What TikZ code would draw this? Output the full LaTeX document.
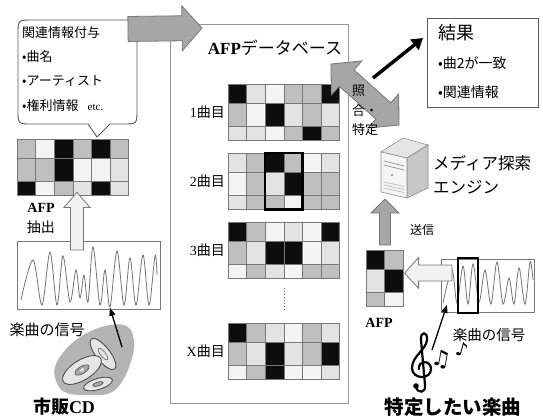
\documentclass[tikz,border=0pt]{standalone}
\usepackage{fontspec}
\setmainfont{Liberation Serif}
\newfontfamily\jp{Noto Sans CJK JP}
\newfontfamily\symfont{DejaVu Sans}
\usetikzlibrary{arrows.meta,positioning,fit,calc}
\definecolor{shadeK}{RGB}{13,13,13}
\definecolor{shadeG}{RGB}{191,191,191}
\definecolor{shadeL}{RGB}{227,227,227}
\definecolor{shadeW}{RGB}{244,244,244}
\definecolor{framegray}{RGB}{150,150,150}
\definecolor{arrowgray}{RGB}{166,166,166}
\definecolor{edgegray}{RGB}{120,120,120}
\definecolor{palegray}{RGB}{242,242,242}
\definecolor{blobgray}{RGB}{180,180,180}

% fingerprint grid: name, north west corner, columns, three rows of shades
\newcommand\afpgrid[6]{%
  \node[gridbox, minimum width={#3*18.6pt}, anchor=north west] (#1) at #2 {};
  \foreach \c [count=\i from 0] in {#4}
    \draw[cell, fill=shade\c] ($(#1.north west)+(\i*18.6,0)$) rectangle ++(18.6,19);
  \foreach \c [count=\i from 0] in {#5}
    \draw[cell, fill=shade\c] ($(#1.north west)+(\i*18.6,19)$) rectangle ++(18.6,23);
  \foreach \c [count=\i from 0] in {#6}
    \draw[cell, fill=shade\c] ($(#1.north west)+(\i*18.6,42)$) rectangle ++(18.6,14);
}
% block arrow: style, from, to, shaft half width, head half width, head length
\newcommand\blockarrow[6][]{%
  \coordinate (ba-base) at ($(#3)!#6pt!(#2)$);
  \draw[#1] ($(#2)!#4pt!90:(#3)$) -- ($(ba-base)!#4pt!-90:(#2)$)
    -- ($(ba-base)!#5pt!-90:(#2)$) -- (#3)
    -- ($(ba-base)!#5pt!90:(#2)$) -- ($(ba-base)!#4pt!90:(#2)$)
    -- ($(#2)!#4pt!-90:(#3)$) -- cycle;
}
% same with a head at both ends
\newcommand\twinarrow[6][]{%
  \coordinate (ta-a) at ($(#2)!#6pt!(#3)$);
  \coordinate (ta-b) at ($(#3)!#6pt!(#2)$);
  \draw[#1] (#2) -- ($(ta-a)!#5pt!90:(#3)$) -- ($(ta-a)!#4pt!90:(#3)$)
    -- ($(ta-b)!#4pt!-90:(#2)$) -- ($(ta-b)!#5pt!-90:(#2)$) -- (#3)
    -- ($(ta-b)!#5pt!90:(#2)$) -- ($(ta-b)!#4pt!90:(#2)$)
    -- ($(ta-a)!#4pt!-90:(#3)$) -- ($(ta-a)!#5pt!-90:(#3)$) -- cycle;
}

\begin{document}
\begin{tikzpicture}[x=1pt, y=-1pt,
    jp/.style={font=\jp\fontsize{#1}{#1}\selectfont, inner sep=0pt},
    cell/.style={draw=edgegray, line width=0.6pt},
    gridbox/.style={inner sep=0pt, minimum height=56pt},
    frame/.style={draw=framegray, line width=1.2pt, inner sep=0pt},
    wavebox/.style={draw=edgegray, line width=0.8pt, fill=white, inner sep=0pt},
    wave/.style={draw=black!55, line width=0.8pt},
    whitearrow/.style={draw=edgegray, line width=0.8pt, fill=palegray},
    grayarrow/.style={draw=edgegray, line width=0.8pt, fill=arrowgray},
    pointer/.style={-{Triangle[length=8pt,width=6pt]}, line width=1.3pt},
    disc/.style={draw=black!75, line width=0.8pt, fill=black!10},
  ]
  \useasboundingbox (0,0) rectangle (543,418);

  % tag bubble
  \draw[draw=black!65, line width=0.9pt, fill=white] (97,137) -- (88,124) -- (32,124)
    .. controls (18,124) .. (18,110) -- (18,34) .. controls (18,20) .. (32,20)
    -- (123,20) .. controls (137,20) .. (137,34) -- (137,110)
    .. controls (137,124) .. (123,124) -- (110,124) -- cycle;
  \node[jp=13, anchor=west] (tagtitle) at (22,33) {関連情報付与};
  \node[jp=13, anchor=west] (tagname) at (22,57) {•曲名};
  \node[jp=13, anchor=west] (tagartist) at (22,81) {•アーティスト};
  \node[jp=13, anchor=west] (tagrights) at (22,106)
    {•権利情報\hspace{0.7em}{\rmfamily\fontsize{11}{11}\selectfont etc.}};

  % database
  \node[frame, minimum width=178pt, minimum height=379pt, anchor=north west] (db) at (170,24) {};
  \node[font=\bfseries\fontsize{17}{17}\selectfont, inner sep=0pt] (dbtitle) at (275,48)
    {AFP{\jp\mdseries データベース}};
  \afpgrid{song1}{(228,84)}{6}{K,L,W,G,G,K}{G,W,K,L,G,L}{L,L,W,G,K,G}
  \afpgrid{song2}{(228,153)}{6}{L,G,K,G,W,L}{W,G,L,K,G,G}{L,G,G,W,G,G}
  \afpgrid{song3}{(228,222)}{6}{K,G,W,L,W,K}{G,L,K,K,W,L}{W,G,L,W,G,G}
  \afpgrid{songx}{(228,323)}{6}{K,G,L,W,G,L}{G,L,K,L,G,K}{W,G,K,W,W,L}
  \node[jp=14, left=3pt of song1] (song1-label) {{\rmfamily 1}曲目};
  \node[jp=14, left=3pt of song2] (song2-label) {{\rmfamily 2}曲目};
  \node[jp=14, left=3pt of song3] (song3-label) {{\rmfamily 3}曲目};
  \node[jp=14, left=3pt of songx] (songx-label) {{\rmfamily X}曲目};
  \draw[line width=2.4pt] ($(song2.north west)+(2*18.6,0)$) rectangle ($(song2.south west)+(4*18.6,0)$);
  \draw[dotted, line width=1pt, black!60] ($(song3.south)+(0,10)$) -- ($(songx.north)+(0,-11)$);

  \coordinate (tag-out) at (128,29);
  \coordinate (db-in) at ($(db.north west)+(32,4)$);
  \blockarrow[grayarrow]{tag-out}{db-in}{12.5}{22.5}{20}

  % commercial CD side
  \afpgrid{tagafp}{(17,139)}{6}{G,W,K,G,K,G}{G,G,K,W,W,L}{K,W,G,L,K,L}
  \node[font=\bfseries\fontsize{14}{14}\selectfont, inner sep=0pt] (tagafp-label) at (41,208) {AFP};
  \node[jp=14] (extract-label) at (41,227) {抽出};
  \node[wavebox, minimum width=143pt, minimum height=68pt, anchor=north west] (cdwave) at (17,241) {};
  \draw[wave] plot[smooth, tension=0.55] coordinates {(21,300) (33,260) (42,305) (50,252) (57,305)
    (63,256) (70,302) (76,270) (80,298) (84,275) (88,302) (93,247) (100,305) (105,270) (110,307)
    (117,251) (124,305) (130,258) (136,305) (143,255) (149,305) (155,256) (157,275)};
  \coordinate (cdwave-out) at ($(cdwave.north west)+(60,9)$);
  \coordinate (tagafp-in) at ($(tagafp.south west)+(60,-3)$);
  \blockarrow[whitearrow]{cdwave-out}{tagafp-in}{6.5}{13}{15}
  \node[jp=15] (cdsignal) at (47,330) {楽曲の信号};

  \fill[blobgray] plot[smooth cycle, tension=0.7] coordinates {(55,367) (67,348) (87,333)
    (110,325) (128,327) (134,342) (132,358) (123,380) (110,393) (90,395) (67,393) (57,383)};
  \draw[disc] (103,354) ellipse [x radius=7, y radius=19, rotate=38];
  \draw[draw=black!60, line width=0.6pt] (103,354) ellipse [x radius=2.5, y radius=7, rotate=38];
  \draw[disc] (82,370) ellipse [x radius=22, y radius=10, rotate=32];
  \draw[draw=black!70, line width=0.6pt, fill=black!35] (82,370) ellipse [x radius=8, y radius=3.6, rotate=32];
  \fill[white] (82,370) ellipse [x radius=2.5, y radius=1.2, rotate=32];
  \draw[disc] (98,384) ellipse [x radius=15, y radius=5.5, rotate=17];
  \draw[draw=black!70, line width=0.6pt, fill=black!35] (98,384) ellipse [x radius=5.5, y radius=2, rotate=17];
  \node[jp=18] (cd-label) at (64,407) {\bfseries 市販{\rmfamily CD}};
  \coordinate (cd-out) at (122,347);
  \coordinate (cdwave-hit) at ($(cdwave.south west)+(93,-2)$);
  \draw[pointer] (cd-out) -- (cdwave-hit);

  % result
  \node[draw=black!65, line width=0.9pt, minimum width=111pt, minimum height=89pt,
        anchor=north west, inner sep=0pt] (result) at (427,18) {};
  \node[jp=18, anchor=west] (result-title) at (438,33) {結果};
  \node[jp=14, anchor=west] (result-match) at (438,63) {•曲2が一致};
  \node[jp=14, anchor=west] (result-info) at (438,92) {•関連情報};

  \coordinate (match-top) at (331,64);
  \coordinate (match-bot) at (399,125);
  \twinarrow[grayarrow]{match-top}{match-bot}{11}{23}{21}
  \node[anchor=north west, font=\jp\fontsize{13}{19.5}\selectfont, align=left, inner sep=0pt]
    (match-label) at (352,85) {照\\合・\\特定};
  \coordinate (match-out) at (373,78);
  \coordinate (result-in) at ($(result.north west)+(-4,20)$);
  \draw[-{Triangle[length=11pt,width=13pt]}, line width=3.5pt] (match-out) -- (result-in);

  % search engine server
  \filldraw[draw=black!45, fill=black!10, line width=0.6pt] (381,152) -- (403,138) -- (428,145) -- (407,158) -- cycle;
  \filldraw[draw=black!45, fill=black!22, line width=0.6pt] (407,158) -- (428,145) -- (428,188) -- (407,198) -- cycle;
  \filldraw[draw=black!45, fill=black!4, line width=0.6pt] (381,152) -- (407,158) -- (407,198) -- (381,192) -- cycle;
  \foreach \yy in {161,165} \draw[black!40, line width=0.8pt] (384,\yy) -- (404,\yy+5);
  \foreach \yy in {182,185,188} \draw[black!30, line width=0.6pt] (384,\yy) -- (404,\yy+4.5);
  \fill[black!50] (392,175) circle (1.2);
  \node[anchor=west, font=\jp\fontsize{16.5}{24}\selectfont, align=left, inner sep=0pt]
    (engine) at (433,175) {メディア探索\\エンジン};
  \coordinate (server-in) at (385,199);

  % query side
  \afpgrid{queryafp}{(366,250)}{2}{K,G}{L,K}{G,W}
  \node[font=\bfseries\fontsize{14}{14}\selectfont, inner sep=0pt] (queryafp-label) at (379,323) {AFP};
  \coordinate (queryafp-out) at ($(queryafp.north west)+(19,-5)$);
  \blockarrow[grayarrow]{queryafp-out}{server-in}{5.5}{14}{14}
  \node[jp=12, anchor=west] (send-label) at (410,230) {送信};

  \node[wavebox, minimum width=93pt, minimum height=53pt, anchor=north west] (querywave) at (441,259) {};
  \draw[wave] plot[smooth, tension=0.55] coordinates {(443,303) (452,270) (457,303) (463,266)
    (468,304) (473,264) (479,302) (485,270) (491,304) (497,262) (503,304) (509,278) (514,304)
    (519,268) (525,304) (530,262) (533,280)};
  \draw[line width=2.4pt] ($(querywave.north west)+(17,-1)$) rectangle ++(20,55);
  \coordinate (querywave-out) at ($(querywave.north west)+(11,14)$);
  \coordinate (queryafp-in) at ($(queryafp.north east)+(1,23)$);
  \blockarrow[whitearrow]{querywave-out}{queryafp-in}{8}{15.5}{14}
  \node[jp=14.5] (querysignal) at (489,335) {楽曲の信号};

  % tune to identify: treble clef and notes
  \draw[line width=2.2pt, line cap=round] (416,387) .. controls (418,394) and (426,393) .. (425,385)
    -- (421,340) .. controls (420,331) and (428,331) .. (427,340)
    .. controls (426,350) and (412,356) .. (412,368)
    .. controls (412,380) and (432,380) .. (431,368)
    .. controls (430,360) and (418,360) .. (419,369);
  \fill (416,386) circle (2.8);
  \node[font=\symfont\fontsize{22}{22}\selectfont, inner sep=0pt, rotate=-10] (tune-notes) at (441,359) {♫};
  \node[font=\symfont\fontsize{19}{19}\selectfont, inner sep=0pt, rotate=-15] (tune-note) at (462,349) {♪};
  \coordinate (tune-out) at (432,350);
  \coordinate (querywave-hit) at ($(querywave.south west)+(6,-8)$);
  \draw[pointer] (tune-out) -- (querywave-hit);
  \node[jp=19.5] (tune-label) at (453,407) {\bfseries 特定したい楽曲};
\end{tikzpicture}
\end{document}
